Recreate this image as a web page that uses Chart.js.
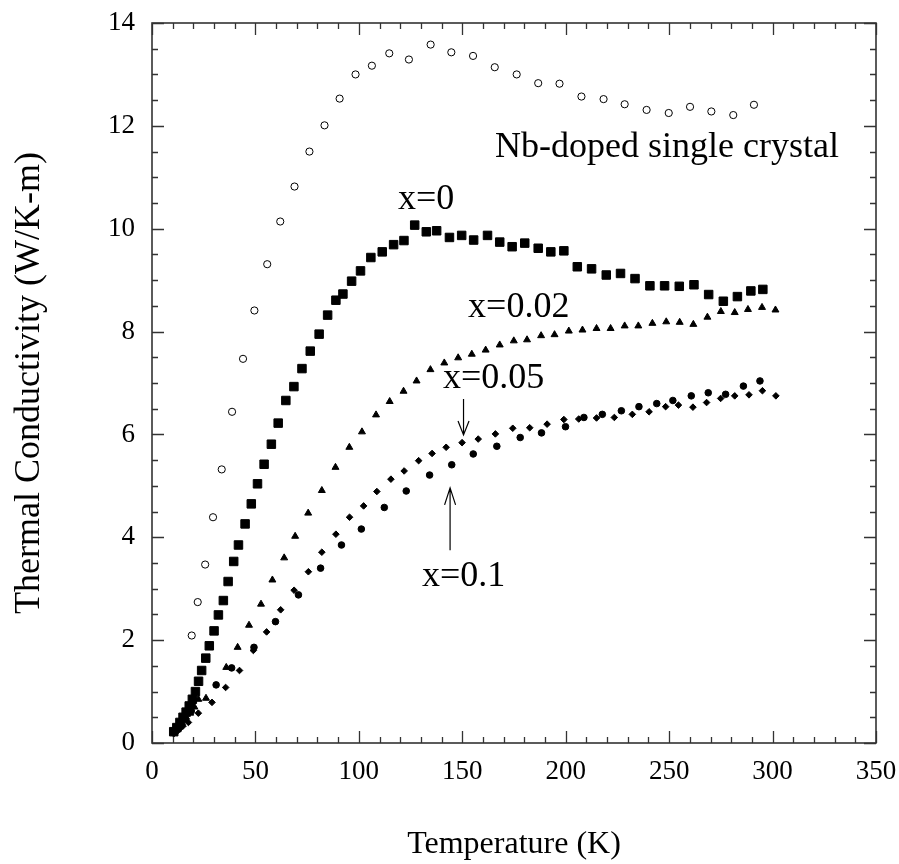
<!DOCTYPE html>
<html><head><meta charset="utf-8">
<script src="https://cdn.jsdelivr.net/npm/chart.js@4.4.1/dist/chart.umd.min.js"></script>
<style>html,body{margin:0;padding:0;background:#fff;}</style>
</head><body>
<canvas id="c" width="899" height="864"></canvas>
<script>
// ---- data ----
const xTicks = [0, 50, 100, 150, 200, 250, 300, 350];
const yTicks = [0, 2, 4, 6, 8, 10, 12, 14];

const seriesNames = ['Nb-doped single crystal', 'x=0', 'x=0.02', 'x=0.05', 'x=0.1'];

const nbT = [19.2, 22.1, 25.7, 29.5, 33.7, 38.7, 44.0, 49.5, 55.7, 62.0, 68.9, 76.1, 83.4, 90.7, 98.4, 106.3, 114.7, 124.2, 134.7, 144.7, 155.2, 165.7, 176.3, 186.7, 197.0, 207.6, 218.3, 228.5, 239.1, 249.8, 260.1, 270.4, 281.0, 291.0];
const nbK = [2.09, 2.74, 3.47, 4.39, 5.32, 6.44, 7.47, 8.41, 9.31, 10.14, 10.82, 11.50, 12.01, 12.53, 13.00, 13.17, 13.41, 13.29, 13.58, 13.43, 13.36, 13.14, 13.00, 12.83, 12.82, 12.57, 12.52, 12.42, 12.31, 12.25, 12.37, 12.28, 12.21, 12.41];

const x0T = [10.5, 12, 13.5, 15, 16.5, 18, 19.5, 21, 22.5, 24, 26, 27.7, 30, 32.1, 34.5, 36.8, 39.5, 41.8, 45, 48, 51, 54.2, 57.7, 61, 64.7, 68.6, 72.5, 76.5, 80.8, 84.9, 88.9, 92.3, 96.5, 100.8, 105.8, 111.3, 116.8, 121.8, 127, 132.6, 137.6, 143.8, 149.7, 155.5, 162.2, 168.1, 174.1, 180.2, 186.7, 192.8, 199.1, 205.6, 212.5, 219.6, 226.5, 233.5, 240.7, 247.8, 254.9, 262, 269.1, 276.2, 283, 289.5, 295.3];
const x0K = [0.22, 0.30, 0.40, 0.50, 0.60, 0.72, 0.85, 1.00, 1.20, 1.41, 1.65, 1.89, 2.18, 2.49, 2.77, 3.14, 3.53, 3.85, 4.26, 4.65, 5.04, 5.42, 5.81, 6.22, 6.66, 6.93, 7.28, 7.62, 7.95, 8.32, 8.61, 8.73, 8.98, 9.18, 9.44, 9.55, 9.69, 9.77, 10.07, 9.94, 9.96, 9.83, 9.87, 9.78, 9.87, 9.74, 9.65, 9.72, 9.62, 9.55, 9.57, 9.26, 9.22, 9.10, 9.13, 9.03, 8.89, 8.89, 8.88, 8.91, 8.72, 8.59, 8.68, 8.79, 8.82];

const x02T = [10.5, 12.5, 14.5, 16.5, 18.5, 20.5, 22.4, 26.1, 35.9, 41.4, 46.9, 52.7, 58.2, 63.9, 69.2, 75.5, 82.1, 88.7, 95.4, 101.5, 108.3, 114.9, 121.6, 127.9, 134.6, 141.3, 148, 154.6, 161.3, 168.1, 174.9, 181.3, 188.1, 194.6, 201.5, 208.1, 214.9, 221.7, 228.5, 235.1, 241.9, 248.6, 255.1, 261.7, 268.5, 275, 281.7, 288.1, 294.9, 301.4];
const x02K = [0.22, 0.30, 0.40, 0.50, 0.58, 0.70, 0.85, 0.87, 1.47, 1.86, 2.29, 2.70, 3.17, 3.60, 4.02, 4.47, 4.91, 5.36, 5.75, 6.05, 6.38, 6.64, 6.84, 7.04, 7.26, 7.39, 7.49, 7.56, 7.64, 7.74, 7.82, 7.84, 7.92, 7.94, 8.01, 8.03, 8.06, 8.06, 8.11, 8.11, 8.16, 8.19, 8.18, 8.14, 8.28, 8.39, 8.37, 8.43, 8.47, 8.42];

const x05T = [10.5, 12, 13.5, 15, 17.6, 22.4, 29.0, 35.6, 42.3, 49.0, 55.4, 62.2, 68.7, 75.6, 82.1, 88.9, 95.5, 102.3, 108.7, 115.5, 121.9, 128.9, 135.4, 142.2, 149.9, 157.7, 166, 174.4, 182.6, 191, 199.1, 206.3, 214.9, 223.5, 232.2, 240.3, 248.3, 254.5, 261.5, 268.1, 274.9, 281.7, 288.6, 295.1, 301.6];
const x05K = [0.18, 0.22, 0.28, 0.33, 0.40, 0.58, 0.79, 1.08, 1.41, 1.80, 2.16, 2.59, 2.97, 3.33, 3.71, 4.06, 4.39, 4.61, 4.89, 5.13, 5.29, 5.49, 5.63, 5.75, 5.84, 5.91, 6.01, 6.12, 6.13, 6.20, 6.29, 6.30, 6.32, 6.33, 6.39, 6.44, 6.54, 6.57, 6.53, 6.62, 6.70, 6.75, 6.77, 6.85, 6.75];

const x1T = [10.5, 13, 16, 19, 31.0, 38.5, 49.3, 59.7, 70.8, 81.5, 91.6, 101.2, 112.3, 122.9, 134.2, 144.9, 155.3, 166.7, 178, 188.3, 199.9, 208.8, 217.7, 226.9, 235.4, 244, 251.8, 260.7, 268.9, 277.3, 285.9, 293.9];
const x1K = [0.20, 0.32, 0.47, 0.62, 1.13, 1.46, 1.86, 2.36, 2.88, 3.40, 3.85, 4.16, 4.58, 4.90, 5.21, 5.41, 5.62, 5.77, 5.94, 6.03, 6.15, 6.33, 6.39, 6.46, 6.54, 6.60, 6.66, 6.75, 6.81, 6.78, 6.94, 7.04];

// ---- annotations (positions in data units) ----
const notes = [
  {text: 'Nb-doped single crystal', x: 165.8, y: 11.39},
  {text: 'x=0', x: 118.9, y: 10.38},
  {text: 'x=0.02', x: 152.8, y: 8.28},
  {text: 'x=0.05', x: 140.7, y: 6.90},
  {text: 'x=0.1', x: 130.5, y: 3.05}
];
const arrows = [
  {x: 150.6, from: 6.69, to: 5.99, head: 14},
  {x: 144.1, from: 3.75, to: 4.96, head: 17}
];

const SERIF = "'Liberation Serif', 'Times New Roman', Times, serif";
const zip = (a, b) => a.map((v, i) => ({x: v, y: b[i]}));
const noPad = s => { s.paddingTop = 0; s.paddingBottom = 0; s.paddingLeft = 0; s.paddingRight = 0; };

const frameTicks = {
  id: 'frameTicks',
  afterDatasetsDraw(chart) {
    const {ctx, chartArea: a, scales: {x, y}} = chart;
    ctx.save();
    ctx.strokeStyle = '#333';
    ctx.lineWidth = 1.3;
    ctx.beginPath();
    for (let v = 0; v <= 350; v += 10) {
      const px = Math.round(x.getPixelForValue(v)) + 0.5;
      const len = (v % 50 === 0) ? 12 : 6;
      ctx.moveTo(px, a.bottom); ctx.lineTo(px, a.bottom - len);
      ctx.moveTo(px, a.top); ctx.lineTo(px, a.top + len);
    }
    for (let k = 0; k <= 28; k++) {
      const v = k * 0.5;
      const py = Math.round(y.getPixelForValue(v)) + 0.5;
      const len = (k % 4 === 0) ? 12 : 6;
      ctx.moveTo(a.left, py); ctx.lineTo(a.left + len, py);
      ctx.moveTo(a.right, py); ctx.lineTo(a.right - len, py);
    }
    ctx.stroke();
    ctx.lineWidth = 1.6;
    ctx.strokeRect(a.left, a.top, a.right - a.left, a.bottom - a.top);

    // annotations
    ctx.fillStyle = '#000';
    ctx.font = '36px ' + SERIF;
    ctx.textAlign = 'left';
    ctx.textBaseline = 'alphabetic';
    notes.forEach(n => ctx.fillText(n.text, x.getPixelForValue(n.x), y.getPixelForValue(n.y)));

    ctx.strokeStyle = '#000';
    ctx.lineWidth = 1.2;
    arrows.forEach(ar => {
      const px = x.getPixelForValue(ar.x);
      const p0 = y.getPixelForValue(ar.from), p1 = y.getPixelForValue(ar.to);
      const dir = p1 > p0 ? 1 : -1;
      ctx.beginPath();
      ctx.moveTo(px, p0); ctx.lineTo(px, p1);
      ctx.moveTo(px - 5.5, p1 - dir * ar.head); ctx.lineTo(px, p1); ctx.lineTo(px + 5.5, p1 - dir * ar.head);
      ctx.stroke();
    });
    ctx.restore();
  }
};

const mk = (label, data, style, radius, filled) => ({
  label, data, showLine: false,
  pointStyle: style, pointRadius: radius, pointHoverRadius: radius,
  pointBorderWidth: 1,
  borderColor: '#000',
  backgroundColor: filled ? '#000' : 'rgba(0,0,0,0)',
  pointBackgroundColor: filled ? '#000' : 'rgba(0,0,0,0)',
  pointBorderColor: '#000'
});

new Chart(document.getElementById('c'), {
  type: 'scatter',
  data: {
    datasets: [
      mk(seriesNames[0], zip(nbT, nbK), 'circle', 3.6, false),
      mk(seriesNames[1], zip(x0T, x0K), 'rect', 6, true),
      mk(seriesNames[2], zip(x02T, x02K), 'triangle', 4, true),
      mk(seriesNames[3], zip(x05T, x05K), 'rectRot', 3.3, true),
      mk(seriesNames[4], zip(x1T, x1K), 'circle', 3.3, true)
    ]
  },
  options: {
    responsive: false,
    animation: false,
    devicePixelRatio: 1,
    layout: {padding: {top: 23, right: 23, left: 0, bottom: 0}},
    plugins: {legend: {display: false}, tooltip: {enabled: false}},
    scales: {
      x: {
        type: 'linear', min: 0, max: 350,
        afterBuildTicks: s => { s.ticks = xTicks.map(v => ({value: v})); },
        afterFit: s => { s.height = 121; noPad(s); },
        grid: {display: false, drawTicks: false},
        border: {display: false},
        ticks: {color: '#000', padding: 13, maxRotation: 0, font: {family: SERIF, size: 27}},
        title: {display: true, text: 'Temperature (K)', color: '#000', padding: {top: 0, bottom: 0}, font: {family: SERIF, size: 32}}
      },
      y: {
        type: 'linear', min: 0, max: 14,
        afterBuildTicks: s => { s.ticks = yTicks.map(v => ({value: v})); },
        afterFit: s => { s.width = 152; noPad(s); },
        grid: {display: false, drawTicks: false},
        border: {display: false},
        ticks: {color: '#000', padding: 17, font: {family: SERIF, size: 27}},
        title: {display: true, text: 'Thermal Conductivity (W/K-m)', color: '#000', padding: {top: 8, bottom: 0}, font: {family: SERIF, size: 36}}
      }
    }
  },
  plugins: [frameTicks]
});
</script>
</body></html>
